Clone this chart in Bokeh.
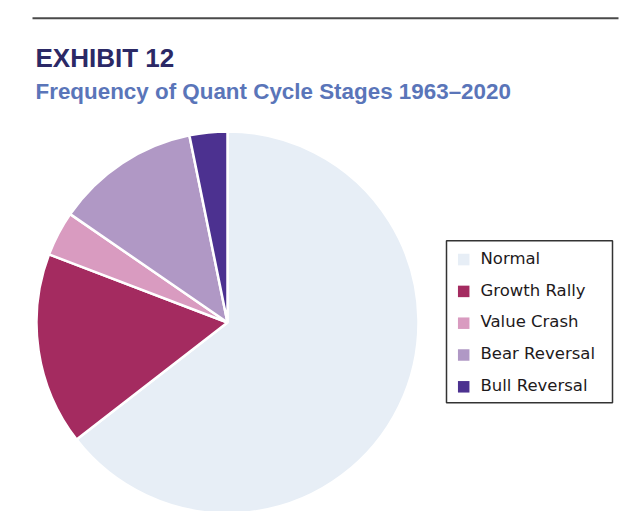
import math
from bokeh.plotting import figure
from bokeh.models import Range1d, Label, ColumnDataSource
from bokeh.core.properties import value
from bokeh.embed import file_html
from bokeh.resources import INLINE

# ---- data ----
categories = ["Normal", "Growth Rally", "Value Crash", "Bear Reversal", "Bull Reversal"]
shares = [64.5, 16.3, 3.8, 12.2, 3.2]
colors = ["#e7eef6", "#a42b60", "#d99bc0", "#b098c5", "#4c3190"]
title_text = "EXHIBIT 12"
subtitle_text = "Frequency of Quant Cycle Stages 1963\u20132020"

W, H = 624, 511
PAGE_H = 527

def Y(py):
    # picture y (down) -> data y (up)
    return PAGE_H - py

p = figure(width=W, height=H, output_backend="svg", toolbar_location=None,
           x_range=Range1d(0, W), y_range=Range1d(PAGE_H - H, PAGE_H),
           min_border=0, min_border_left=0, min_border_right=0,
           min_border_top=0, min_border_bottom=0)
p.axis.visible = False
p.grid.visible = False
p.outline_line_color = None
p.background_fill_color = "white"
p.border_fill_color = "white"

# top rule
p.line(x=[32, 618], y=[Y(17.7), Y(17.7)], line_color="#4a4a4a", line_width=2)

# titles (vertical centre of capitals)
p.add_layout(Label(x=35, y=Y(57), text=title_text, text_font="Liberation Sans",
                   text_font_style="bold", text_font_size="26px", text_color="#2b2966",
                   text_baseline="middle"))
p.add_layout(Label(x=35, y=Y(91.3), text=subtitle_text, text_font="Liberation Sans",
                   text_font_style="bold", text_font_size="22.4px", text_color="#5a75b9",
                   text_baseline="middle"))

# pie: clockwise from 12 o'clock
total = sum(shares)
starts, ends = [], []
cum = 0.0
for s in shares:
    a0 = math.pi / 2 - 2 * math.pi * cum / total
    cum += s
    a1 = math.pi / 2 - 2 * math.pi * cum / total
    starts.append(a1)
    ends.append(a0)

src = ColumnDataSource(dict(cat=categories, share=shares, color=colors,
                            start=starts, end=ends))
p.wedge(x=227, y=Y(322), radius=191, start_angle="start", end_angle="end",
        direction="anticlock", fill_color="color", line_color="white",
        line_width=2.5, source=src)

# legend (manual)
box_l, box_r, box_t, box_b = 446, 612, 240.3, 402.3
p.quad(left=[box_l], right=[box_r], top=[Y(box_t)], bottom=[Y(box_b)],
       fill_color="white", line_color="#333333", line_width=1.5)
base0, step = 263.3, 31.8
lx = [463.2] * len(categories)
ly = [Y(base0 + i * step - 4.2) for i in range(len(categories))]
tx = [480] * len(categories)
ty = [Y(base0 + i * step - 5.5) for i in range(len(categories))]
leg = ColumnDataSource(dict(lx=lx, ly=ly, tx=tx, ty=ty, cat=categories, color=colors))
p.rect(x="lx", y="ly", width=11.5, height=11.5, fill_color="color", line_color=None, source=leg)
p.text(x="tx", y="ty", text="cat", text_font=value("DejaVu Sans"), text_font_size="16.5px",
       text_color="#1e1a1c", text_baseline="middle", source=leg)

open("out.html", "w").write(file_html(p, INLINE))
